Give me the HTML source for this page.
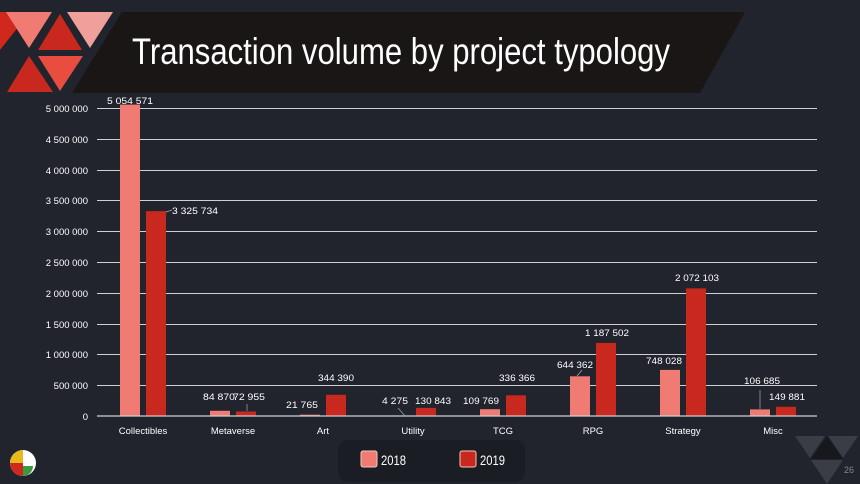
<!DOCTYPE html><html><head><meta charset="utf-8"><style>body{margin:0;background:#21232d;}svg{display:block}text{font-family:"Liberation Sans",sans-serif;}</style></head><body>
<svg width="860" height="484" viewBox="0 0 860 484">
<rect width="860" height="484" fill="#21232d"/>
<polygon points="122,12 745,12 700,93 72,93" fill="#1a1616"/>
<polygon points="0,12 30,12 0,50" fill="#d0281c"/>
<polygon points="6,12 52,12 29,48" fill="#f07b72"/>
<polygon points="67,12 113,12 90,48" fill="#f0a09a"/>
<polygon points="60,14 82,50 38,50" fill="#c9281e"/>
<polygon points="29,56 53,92 7,92" fill="#c9281e"/>
<polygon points="38,56 83,56 60,91" fill="#e84d40"/>
<text x="132" y="64" font-size="37" fill="#fff" textLength="538" lengthAdjust="spacingAndGlyphs">Transaction volume by project typology</text>
<g stroke="#cfcfd4" stroke-width="1">
<line x1="97" x2="817" y1="108.5" y2="108.5"/><line x1="97" x2="817" y1="139.5" y2="139.5"/><line x1="97" x2="817" y1="170.5" y2="170.5"/><line x1="97" x2="817" y1="200.5" y2="200.5"/><line x1="97" x2="817" y1="231.5" y2="231.5"/><line x1="97" x2="817" y1="262.5" y2="262.5"/><line x1="97" x2="817" y1="293.5" y2="293.5"/><line x1="97" x2="817" y1="324.5" y2="324.5"/><line x1="97" x2="817" y1="354.5" y2="354.5"/><line x1="97" x2="817" y1="385.5" y2="385.5"/>
</g>
<g font-size="9.5" fill="#fff" text-anchor="end">
<text x="88" y="112">5 000 000</text><text x="88" y="143">4 500 000</text><text x="88" y="174">4 000 000</text><text x="88" y="204">3 500 000</text><text x="88" y="235">3 000 000</text><text x="88" y="266">2 500 000</text><text x="88" y="297">2 000 000</text><text x="88" y="328">1 500 000</text><text x="88" y="358">1 000 000</text><text x="88" y="389">500 000</text><text x="88" y="420">0</text>
</g>
<g fill="#f07b72">
<rect x="120" y="104.6" width="20" height="311.4"/><rect x="210" y="410.8" width="20" height="5.2"/><rect x="300" y="414.7" width="20" height="1.3"/><rect x="390" y="415.7" width="20" height="0.3"/><rect x="480" y="409.2" width="20" height="6.8"/><rect x="570" y="376.3" width="20" height="39.7"/><rect x="660" y="369.9" width="20" height="46.1"/><rect x="750" y="409.4" width="20" height="6.6"/>
</g>
<g fill="#c9281e">
<rect x="146" y="211.1" width="20" height="204.9"/><rect x="236" y="411.5" width="20" height="4.5"/><rect x="326" y="394.8" width="20" height="21.2"/><rect x="416" y="407.9" width="20" height="8.1"/><rect x="506" y="395.3" width="20" height="20.7"/><rect x="596" y="342.9" width="20" height="73.1"/><rect x="686" y="288.4" width="20" height="127.6"/><rect x="776" y="406.8" width="20" height="9.2"/>
</g>
<line x1="97" x2="817" y1="416" y2="416" stroke="#cfcfd4" stroke-width="1.2"/>
<g stroke="#aaa" stroke-width="0.7"><line x1="166" y1="212" x2="172" y2="210"/><line x1="247" y1="411" x2="247" y2="404"/><line x1="398" y1="408" x2="405" y2="416"/><line x1="577" y1="376" x2="582" y2="370"/><line x1="760" y1="409" x2="760" y2="390"/></g>
<g font-size="9.5" fill="#fff" text-anchor="middle">
<text x="130" y="104" textLength="46" lengthAdjust="spacingAndGlyphs">5 054 571</text><text x="195" y="214" textLength="46" lengthAdjust="spacingAndGlyphs">3 325 734</text>
<text x="219" y="400" textLength="32" lengthAdjust="spacingAndGlyphs">84 870</text><text x="249" y="400" textLength="32" lengthAdjust="spacingAndGlyphs">72 955</text>
<text x="302" y="408" textLength="32" lengthAdjust="spacingAndGlyphs">21 765</text><text x="336" y="381" textLength="36" lengthAdjust="spacingAndGlyphs">344 390</text>
<text x="395" y="404" textLength="26" lengthAdjust="spacingAndGlyphs">4 275</text><text x="433" y="404" textLength="36" lengthAdjust="spacingAndGlyphs">130 843</text>
<text x="481" y="404" textLength="36" lengthAdjust="spacingAndGlyphs">109 769</text><text x="517" y="381" textLength="36" lengthAdjust="spacingAndGlyphs">336 366</text>
<text x="575" y="368" textLength="36" lengthAdjust="spacingAndGlyphs">644 362</text><text x="607" y="336" textLength="44" lengthAdjust="spacingAndGlyphs">1 187 502</text>
<text x="664" y="364" textLength="36" lengthAdjust="spacingAndGlyphs">748 028</text><text x="697" y="281" textLength="44" lengthAdjust="spacingAndGlyphs">2 072 103</text>
<text x="762" y="384" textLength="36" lengthAdjust="spacingAndGlyphs">106 685</text><text x="787" y="400" textLength="36" lengthAdjust="spacingAndGlyphs">149 881</text>
</g>
<g font-size="9.5" fill="#fff" text-anchor="middle">
<text x="143" y="434">Collectibles</text><text x="233" y="434">Metaverse</text><text x="323" y="434">Art</text><text x="413" y="434">Utility</text><text x="503" y="434">TCG</text><text x="593" y="434">RPG</text><text x="683" y="434">Strategy</text><text x="773" y="434">Misc</text>
</g>
<rect x="338" y="440" width="187" height="42" rx="10" fill="#1b1d25"/>
<rect x="361" y="451" width="16" height="16" rx="2" fill="#f07b72" stroke="#f4c7c2"/>
<text x="381" y="465" font-size="14" fill="#fff" textLength="25" lengthAdjust="spacingAndGlyphs">2018</text>
<rect x="460" y="451" width="16" height="16" rx="2" fill="#c9281e" stroke="#f4c7c2"/>
<text x="480" y="465" font-size="14" fill="#fff" textLength="25" lengthAdjust="spacingAndGlyphs">2019</text>
<circle cx="23" cy="463" r="13" fill="#fff"/>
<path d="M23 450 A13 13 0 0 0 10 463 L23 463Z" fill="#e8b820"/>
<path d="M10 463 A13 13 0 0 0 23 476 L23 463Z" fill="#d0281c"/>
<path d="M23 476 A10 10 0 0 0 33 466 L23 466Z" fill="#3a9a40"/>
<polygon points="795,436 825,436 810,458" fill="#3a3c46"/>
<polygon points="828,436 858,436 843,458" fill="#3a3c46"/>
<polygon points="811,459 843,459 827,436" fill="#16181e"/>
<polygon points="811,460 843,460 827,484" fill="#3a3c46"/>
<text x="844" y="473" font-size="9" fill="#888">26</text>
</svg></body></html>
